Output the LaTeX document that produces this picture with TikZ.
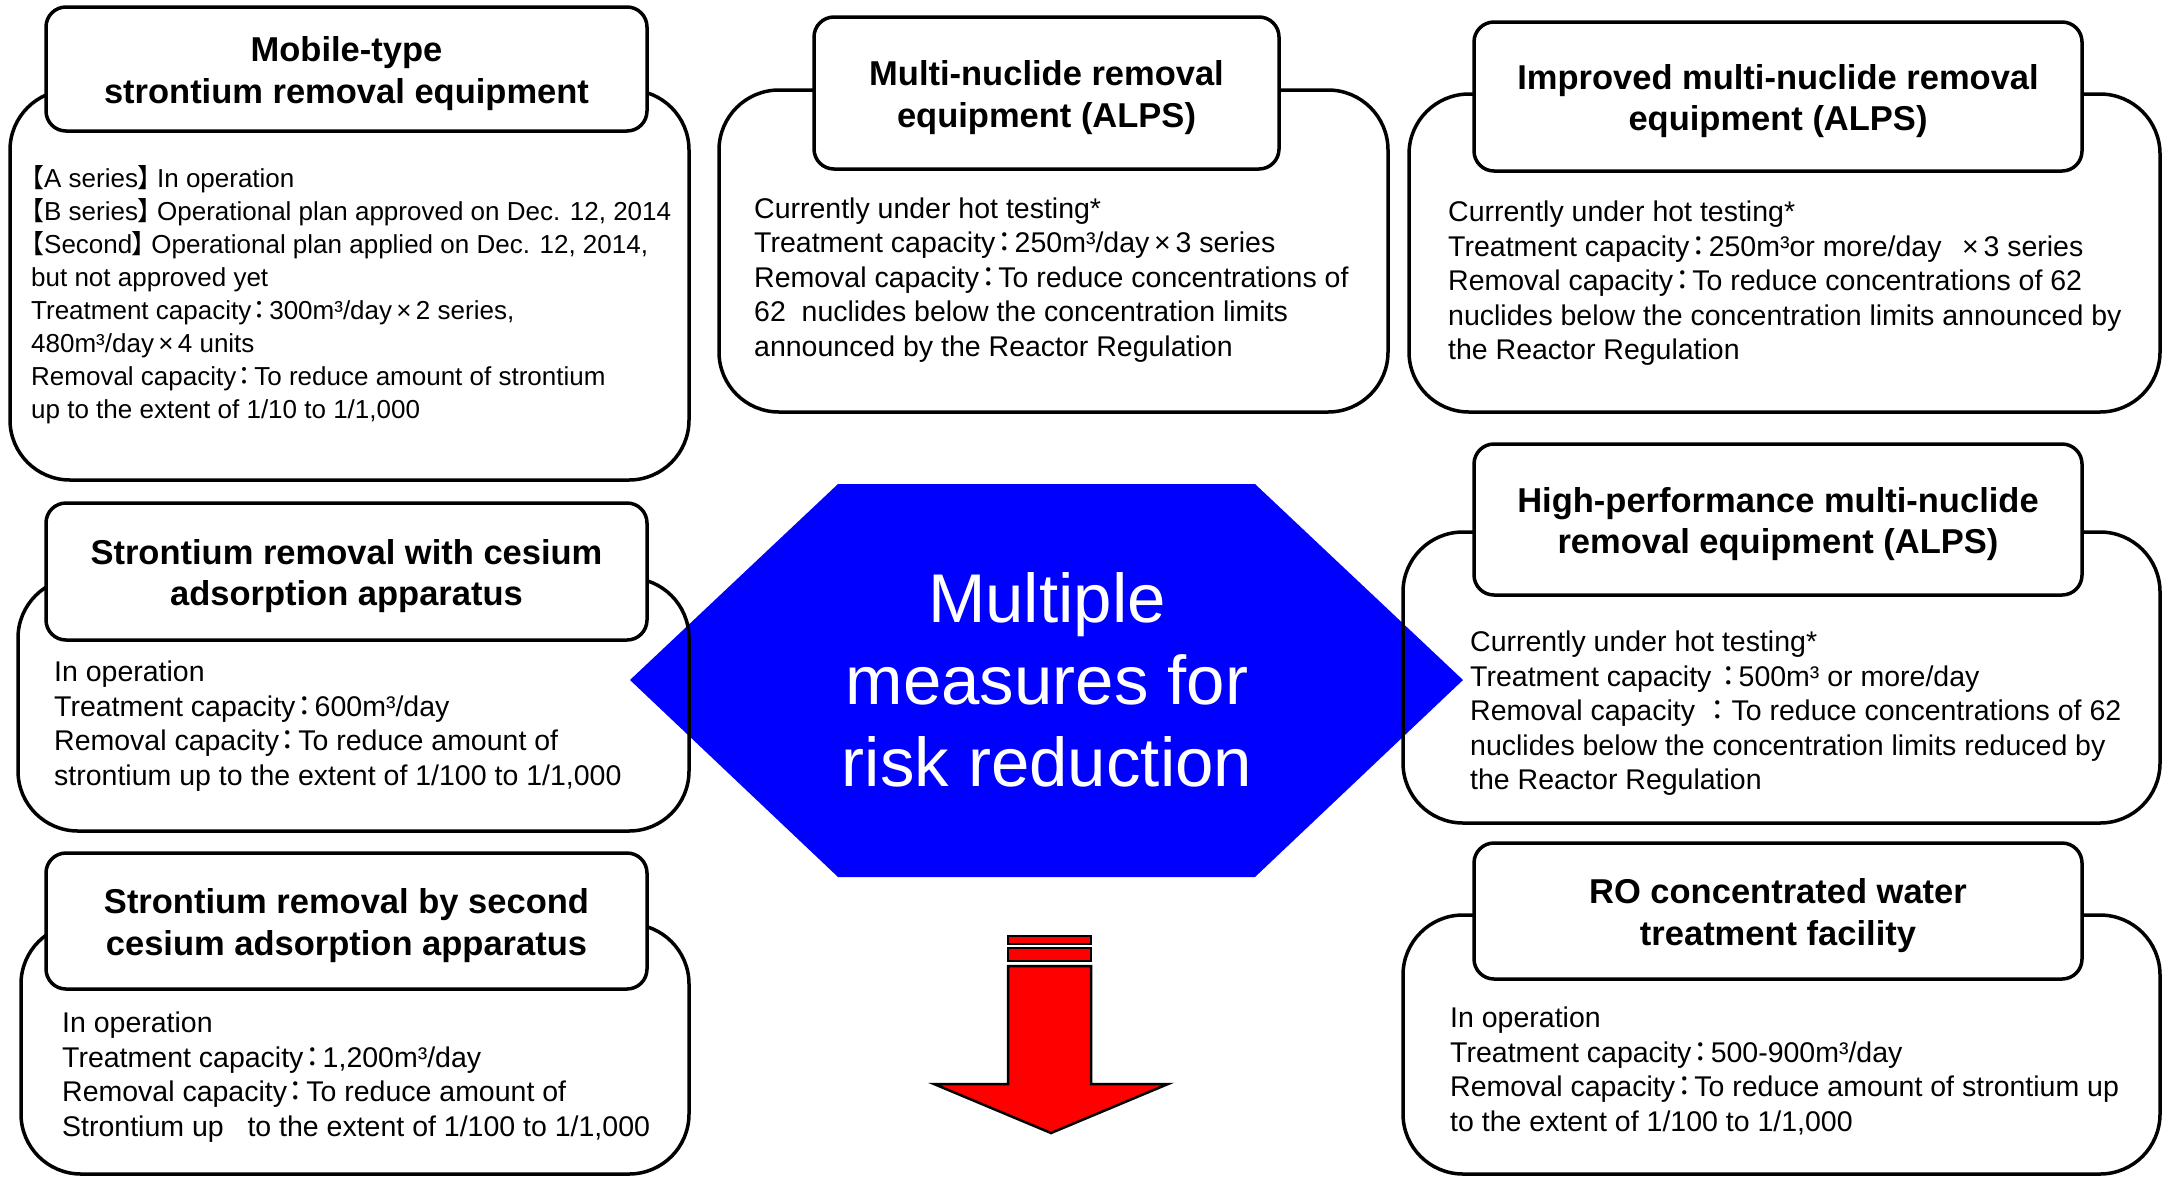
\documentclass[tikz,border=0pt]{standalone}
\usepackage{fontspec}
\setmainfont{Liberation Sans}
\newfontfamily\cjkfont{Noto Sans CJK JP}
\newfontfamily\cjkpfont[RawFeature=+palt]{Noto Sans CJK JP}
\newcommand\LBr{{\cjkpfont 【}}
\newcommand\RBr{{\cjkpfont 】}\kern6pt}
\newcommand\Col{\kern2pt{\cjkpfont ：}\kern3pt}
\newcommand\ColW{{\cjkfont ：}}
\newcommand\Tm{\,×\,}
\tikzset{
  bodybox/.style={draw, line width=3.5pt, rounded corners=60pt, inner sep=0pt},
  headbox/.style={draw, fill=white, line width=3.5pt, rounded corners=20pt, inner sep=0pt},
  headtext/.style={inner sep=0pt, align=center, font=\bfseries\fontsize{34.5}{41.5}\selectfont},
  bodytext/.style={anchor=north west, inner sep=0pt, align=left, font=\fontsize{28.5}{34.5}\selectfont},
  hubtext/.style={text=white, align=center, font=\fontsize{69}{82}\selectfont},
  redarrow/.style={fill=red, draw=black, line width=2.5pt, line join=miter}
}
\begin{document}
\begin{tikzpicture}[x=1pt, y=-1pt]
\useasboundingbox (0,0) rectangle (2168,1176);
% central hexagon
\fill[blue] (630,680) -- (838,484) -- (1255,484) -- (1463,680) -- (1255,877) -- (838,877) -- cycle;
\node[hubtext] (hub) at (1047,680) {Multiple\\measures for\\risk reduction};
% body boxes
\node[bodybox, minimum width=679pt, minimum height=390pt] (b1) at (349.5,285) {};
\node[bodybox, minimum width=669pt, minimum height=322pt] (b2) at (1053.5,251) {};
\node[bodybox, minimum width=751pt, minimum height=318pt] (b3) at (1784.5,253) {};
\node[bodybox, minimum width=671pt, minimum height=253pt] (b4) at (353.5,704.5) {};
\node[bodybox, minimum width=668pt, minimum height=250pt] (b5) at (355,1049) {};
\node[bodybox, minimum width=757pt, minimum height=291pt] (b6) at (1781.5,677.5) {};
\node[bodybox, minimum width=757pt, minimum height=259pt] (b7) at (1781.5,1044.5) {};
% header boxes
\node[headbox, minimum width=601pt, minimum height=124pt] (h1) at (346.5,69) {};
\node[headbox, minimum width=465pt, minimum height=152pt] (h2) at (1046.5,93) {};
\node[headbox, minimum width=608pt, minimum height=149pt] (h3) at (1778,96.5) {};
\node[headbox, minimum width=601pt, minimum height=137pt] (h4) at (346.5,571.5) {};
\node[headbox, minimum width=601pt, minimum height=136pt] (h5) at (346.5,921) {};
\node[headbox, minimum width=608pt, minimum height=151pt] (h6) at (1778,519.5) {};
\node[headbox, minimum width=608pt, minimum height=136pt] (h7) at (1778,911) {};
% header texts
\node[headtext] (h1t) at ([yshift=-4.5pt]h1.center) {Mobile-type\\strontium removal equipment};
\node[headtext] (h2t) at ([yshift=-4.5pt]h2.center) {Multi-nuclide removal\\equipment (ALPS)};
\node[headtext] (h3t) at ([yshift=-4.5pt]h3.center) {Improved multi-nuclide removal\\equipment (ALPS)};
\node[headtext] (h4t) at ([yshift=-4.5pt]h4.center) {Strontium removal with cesium\\adsorption apparatus};
\node[headtext] (h5t) at ([yshift=-4.5pt]h5.center) {Strontium removal by second\\cesium adsorption apparatus};
\node[headtext] (h6t) at ([yshift=-4.5pt]h6.center) {High-performance multi-nuclide\\removal equipment (ALPS)};
\node[headtext] (h7t) at ([yshift=-4.5pt]h7.center) {RO concentrated water\\treatment facility};
% body texts
\node[bodytext, font=\fontsize{26}{33}\selectfont] (t1) at (31,165) {\LBr A series\RBr In operation\\
\LBr B series\RBr Operational plan approved on Dec. 12, 2014\\
\LBr Second\RBr Operational plan applied on Dec. 12, 2014,\\
but not approved yet\\
Treatment capacity\Col 300m³/day\Tm 2 series,\\
480m³/day\Tm 4 units\\
Removal capacity\Col To reduce amount of strontium\\
up to the extent of 1/10 to 1/1,000};
\node[bodytext] (t2) at (754,197.5) {Currently under hot testing*\\
Treatment capacity\Col 250m³/day\Tm 3 series\\
Removal capacity\Col To reduce concentrations of\\
62\ \ nuclides below the concentration limits\\
announced by the Reactor Regulation};
\node[bodytext] (t3) at (1448,201) {Currently under hot testing*\\
Treatment capacity\Col 250m³or more/day\ \ \Tm 3 series\\
Removal capacity\Col To reduce concentrations of 62\\
nuclides below the concentration limits announced by\\
the Reactor Regulation};
\node[bodytext] (t4) at (54,661) {In operation\\
Treatment capacity\Col 600m³/day\\
Removal capacity\Col To reduce amount of\\
strontium up to the extent of 1/100 to 1/1,000};
\node[bodytext] (t5) at (62,1012) {In operation\\
Treatment capacity\Col 1,200m³/day\\
Removal capacity\Col To reduce amount of\\
Strontium up\ \ \ to the extent of 1/100 to 1/1,000};
\node[bodytext] (t6) at (1470,631) {Currently under hot testing*\\
Treatment capacity \Col 500m³ or more/day\\
Removal capacity \ColW To reduce concentrations of 62\\
nuclides below the concentration limits reduced by\\
the Reactor Regulation};
\node[bodytext] (t7) at (1450,1007) {In operation\\
Treatment capacity\Col 500-900m³/day\\
Removal capacity\Col To reduce amount of strontium up\\
to the extent of 1/100 to 1/1,000};
% red arrow
\draw[redarrow] (1008,936) rectangle (1091,944);
\draw[redarrow] (1008,948) rectangle (1091,961);
\draw[redarrow] (1008,966) -- (1091,966) -- (1091,1084) -- (1168,1084) -- (1051,1133) -- (934,1084) -- (1008,1084) -- cycle;
\end{tikzpicture}
\end{document}
